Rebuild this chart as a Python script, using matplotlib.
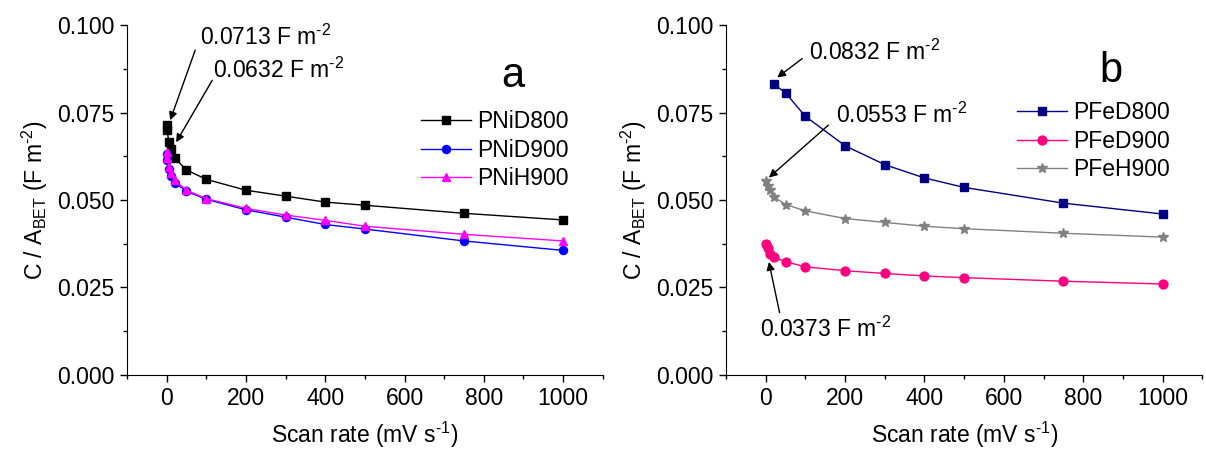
import matplotlib
matplotlib.use("Agg")
import matplotlib.pyplot as plt
from matplotlib.ticker import MultipleLocator, FormatStrFormatter

plt.rcParams['font.family'] = ['Liberation Sans', 'DejaVu Sans']
plt.rcParams['mathtext.fontset'] = 'custom'
plt.rcParams['mathtext.rm'] = 'Liberation Sans'
plt.rcParams['mathtext.it'] = 'Liberation Sans'
plt.rcParams['mathtext.default'] = 'regular'

# ---------- data ----------
scan_ni = [1, 2, 5, 10, 20, 50, 100, 200, 300, 400, 500, 750, 1000]
pnid800 = [0.0713, 0.0700, 0.0665, 0.0645, 0.0620, 0.0586, 0.0559, 0.0528, 0.0511, 0.0494, 0.0485, 0.0462, 0.0443]
pnid900 = [0.0632, 0.0615, 0.0590, 0.0570, 0.0550, 0.0525, 0.0502, 0.0472, 0.0451, 0.0430, 0.0417, 0.0383, 0.0356]
pnih900 = [0.0637, 0.0619, 0.0595, 0.0576, 0.0557, 0.0528, 0.0504, 0.0476, 0.0457, 0.0442, 0.0425, 0.0402, 0.0383]

scan_fed800 = [20, 50, 100, 200, 300, 400, 500, 750, 1000]
pfed800 = [0.0832, 0.0806, 0.0739, 0.0655, 0.0601, 0.0563, 0.0536, 0.0491, 0.0460]
scan_fe = [1, 5, 10, 20, 50, 100, 200, 300, 400, 500, 750, 1000]
pfed900 = [0.0373, 0.0362, 0.0347, 0.0336, 0.0324, 0.0309, 0.0298, 0.0290, 0.0283, 0.0278, 0.0268, 0.0260]
pfeh900 = [0.0553, 0.0540, 0.0528, 0.0509, 0.0487, 0.0469, 0.0447, 0.0436, 0.0425, 0.0418, 0.0405, 0.0394]

ni_labels = ['PNiD800', 'PNiD900', 'PNiH900']
fe_labels = ['PFeD800', 'PFeD900', 'PFeH900']

fig = plt.figure(figsize=(12.06, 4.53), dpi=100)
axa = fig.add_axes([0.1053, 0.1722, 0.3945, 0.7726])
axb = fig.add_axes([0.6020, 0.1722, 0.3949, 0.7726])

FS = 16.5
ms = 5.8
axa.plot(scan_ni, pnid800, '-s', color='black', lw=1, ms=ms, label=ni_labels[0])
axa.plot(scan_ni, pnid900, '-o', color='#0000FF', lw=1, ms=ms, label=ni_labels[1])
axa.plot(scan_ni, pnih900, '-^', color='#FF00FF', lw=1, ms=ms + 0.6, label=ni_labels[2])

axb.plot(scan_fed800, pfed800, '-s', color='#000080', lw=1, ms=ms, label=fe_labels[0])
axb.plot(scan_fe, pfed900, '-o', color='#FF0080', lw=1, ms=ms + 0.6, label=fe_labels[1])
axb.plot(scan_fe, pfeh900, '-*', color='#808080', lw=1, ms=ms + 2, label=fe_labels[2])

sup2 = r' F m$^{\text{-}2}$'

legend_pos = {axa: (0.617, 0.757), axb: (0.610, 0.782)}
for ax in (axa, axb):
    ax.set_xlim(-100, 1100)
    ax.set_ylim(0, 0.1)
    ax.spines['top'].set_visible(False)
    ax.spines['right'].set_visible(False)
    ax.xaxis.set_major_locator(MultipleLocator(200))
    ax.xaxis.set_minor_locator(MultipleLocator(100))
    ax.yaxis.set_major_locator(MultipleLocator(0.025))
    ax.yaxis.set_minor_locator(MultipleLocator(0.0125))
    ax.yaxis.set_major_formatter(FormatStrFormatter('%.3f'))
    ax.tick_params(which='major', direction='out', length=5, width=1, labelsize=FS, pad=4)
    ax.tick_params(which='minor', direction='out', length=3, width=1)
    ax.set_xlabel(r'Scan rate (mV s$^{\text{-}1}$)', fontsize=FS, labelpad=7)
    ax.set_ylabel(r'C / A$_{BET}$ (F m$^{\text{-}2}$)', fontsize=FS, labelpad=5)
    ax.legend(loc='upper left', bbox_to_anchor=legend_pos[ax], frameon=False, fontsize=FS,
              handlelength=2.2, handletextpad=0.27, labelspacing=0.24,
              borderpad=0, borderaxespad=0)

arrow = dict(arrowstyle='-|>', color='black', lw=1, mutation_scale=12, shrinkA=0, shrinkB=0)

# panel a annotations
axa.text(85, 0.0965, '0.0713' + sup2, fontsize=FS, va='center', ha='left')
axa.annotate('', xy=(9, 0.0728), xytext=(72, 0.0928), arrowprops=arrow)
axa.text(118, 0.0871, '0.0632' + sup2, fontsize=FS, va='center', ha='left')
axa.annotate('', xy=(24, 0.0665), xytext=(115, 0.0842), arrowprops=arrow)
axa.text(873, 0.0822, 'a', fontsize=30, ha='center', va='baseline')

# panel b annotations
axb.text(109, 0.0923, '0.0832' + sup2, fontsize=FS, va='center', ha='left')
axb.annotate('', xy=(29, 0.0850), xytext=(92, 0.0904), arrowprops=arrow)
axb.text(176, 0.0742, '0.0553' + sup2, fontsize=FS, va='center', ha='left')
axb.annotate('', xy=(8, 0.0564), xytext=(158, 0.0714), arrowprops=arrow)
axb.text(-15, 0.0131, '0.0373' + sup2, fontsize=FS, va='center', ha='left')
axb.annotate('', xy=(8, 0.0323), xytext=(35, 0.0178), arrowprops=arrow)
axb.text(870, 0.0836, 'b', fontsize=30, ha='center', va='baseline')

fig.savefig('out.png', dpi=100)
